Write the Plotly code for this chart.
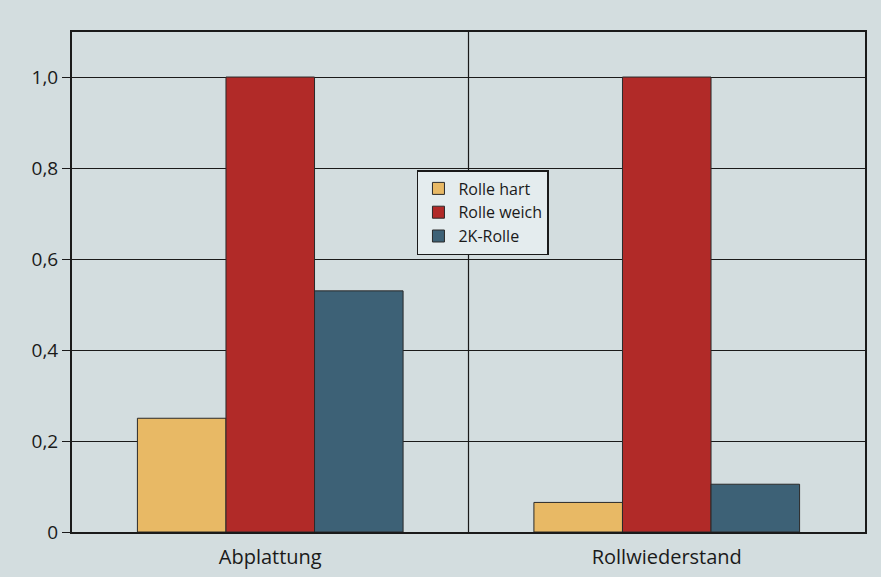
import plotly.graph_objects as go

categories = ["Abplattung", "Rollwiederstand"]
series_names = ["Rolle hart", "Rolle weich", "2K-Rolle"]
hart = [0.25, 0.065]
weich = [1.0, 1.0]
zweik = [0.53, 0.105]
y_ticks = [0, 0.2, 0.4, 0.6, 0.8, 1.0]
y_ticklabels = ["0", "0,2", "0,4", "0,6", "0,8", "1,0"]

colors = ["#e8b965", "#b12a28", "#3d6176"]
xpos = list(range(len(categories)))

fig = go.Figure()
for name, vals, col in zip(series_names, [hart, weich, zweik], colors):
    fig.add_trace(go.Bar(x=xpos, y=vals, name=name, marker=dict(color=col, line=dict(color="#2a2a2a", width=1))))

bg = "#d3dddf"
fig.update_layout(
    width=881, height=577,
    margin=dict(l=72, r=16, t=32, b=45),
    paper_bgcolor=bg, plot_bgcolor=bg,
    barmode="group", bargap=0.33, bargroupgap=0,
    font=dict(family="Open Sans", color="#1a1a1a", size=18),
    showlegend=True,
    legend=dict(x=0.435, y=0.724, xanchor="left", yanchor="top",
                bgcolor="#e4ecee", bordercolor="#1a1a1a", borderwidth=1.5,
                font=dict(size=16), itemwidth=30),
    xaxis=dict(range=[-0.5, 1.5], tickvals=xpos, ticktext=categories, showgrid=False,
               zeroline=False, showline=True, linecolor="#1a1a1a", linewidth=2, mirror=True,
               ticks="outside", ticklen=6, tickcolor="rgba(0,0,0,0)", tickfont=dict(size=20),
               automargin=False),
    yaxis=dict(range=[0, 1.099], tickvals=y_ticks, ticktext=y_ticklabels, showgrid=True,
               gridcolor="#1a1a1a", gridwidth=1.2, zeroline=False, showline=True,
               linecolor="#1a1a1a", linewidth=2, mirror=True, ticks="outside", ticklen=8,
               tickcolor="#1a1a1a", tickfont=dict(size=19), automargin=False),
)
fig.add_shape(type="line", xref="x", yref="paper", x0=0.5, x1=0.5, y0=0, y1=1,
              line=dict(color="#1a1a1a", width=1.2), layer="below")
fig.write_html("out.html")
